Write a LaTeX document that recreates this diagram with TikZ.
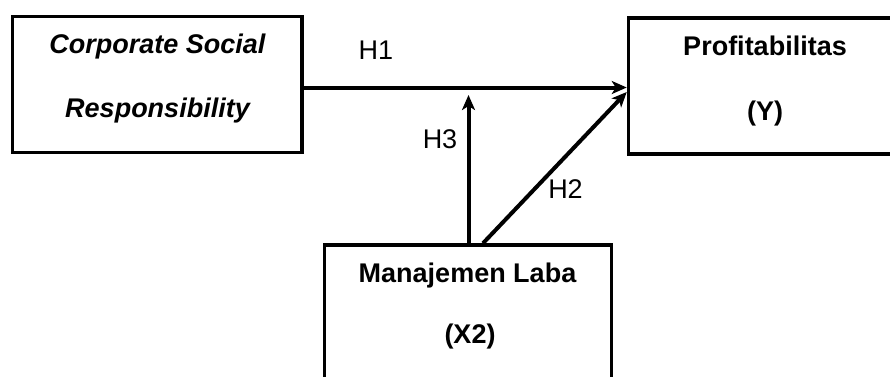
\documentclass[tikz,border=0pt]{standalone}
\usepackage{fontspec}
\setmainfont{Liberation Sans}
\usetikzlibrary{arrows.meta}
\tikzset{
  box/.style={draw=black, line width=3.5pt, fill=none, inner sep=0pt},
  boxtext/.style={anchor=base, inner sep=0pt, font=\fontsize{27pt}{32pt}\selectfont\bfseries},
  hlabel/.style={anchor=base, inner sep=0pt, font=\fontsize{27pt}{32pt}\selectfont},
  arr/.style={draw=black, line width=4pt, -{Stealth[length=15pt,width=13pt,inset=4pt]}},
}
\begin{document}
\begin{tikzpicture}[x=1pt,y=-1pt]
\useasboundingbox (0,0) rectangle (890,376);
\clip (0,0) rectangle (890,376);
% boxes
\node[box, minimum width=289.5pt, minimum height=136pt] (csr) at (157.25,84.5) {};
\node[box, minimum width=280pt, minimum height=136pt] (prof) at (768.5,86) {};
\node[box, minimum width=287pt, minimum height=135pt] (ml) at (468,312.5) {};
% box texts
\node[boxtext] (csr1) at (157.5,53) {\itshape Corporate Social};
\node[boxtext] (csr2) at (157.5,117) {\itshape Responsibility};
\node[boxtext] (prof1) at (765,55) {Profitabilitas};
\node[boxtext] (prof2) at (765,120) {(Y)};
\node[boxtext] (ml1) at (467.5,282) {Manajemen Laba};
\node[boxtext] (ml2) at (470,343) {(X2)};
% connectors
\coordinate (h3tip) at (468.5,95);
\draw[arr] ([yshift=-3pt]csr.east) -- ([yshift=-1.5pt]prof.west);
\draw[arr] ([xshift=0.5pt]ml.north) -- (h3tip);
\draw[arr] ([xshift=15pt]ml.north) -- ([yshift=-6pt]prof.west);
% labels
\node[hlabel] (h1) at (376,59) {H1};
\node[hlabel] (h3) at (440,148) {H3};
\node[hlabel] (h2) at (565.5,198) {H2};
\end{tikzpicture}
\end{document}
